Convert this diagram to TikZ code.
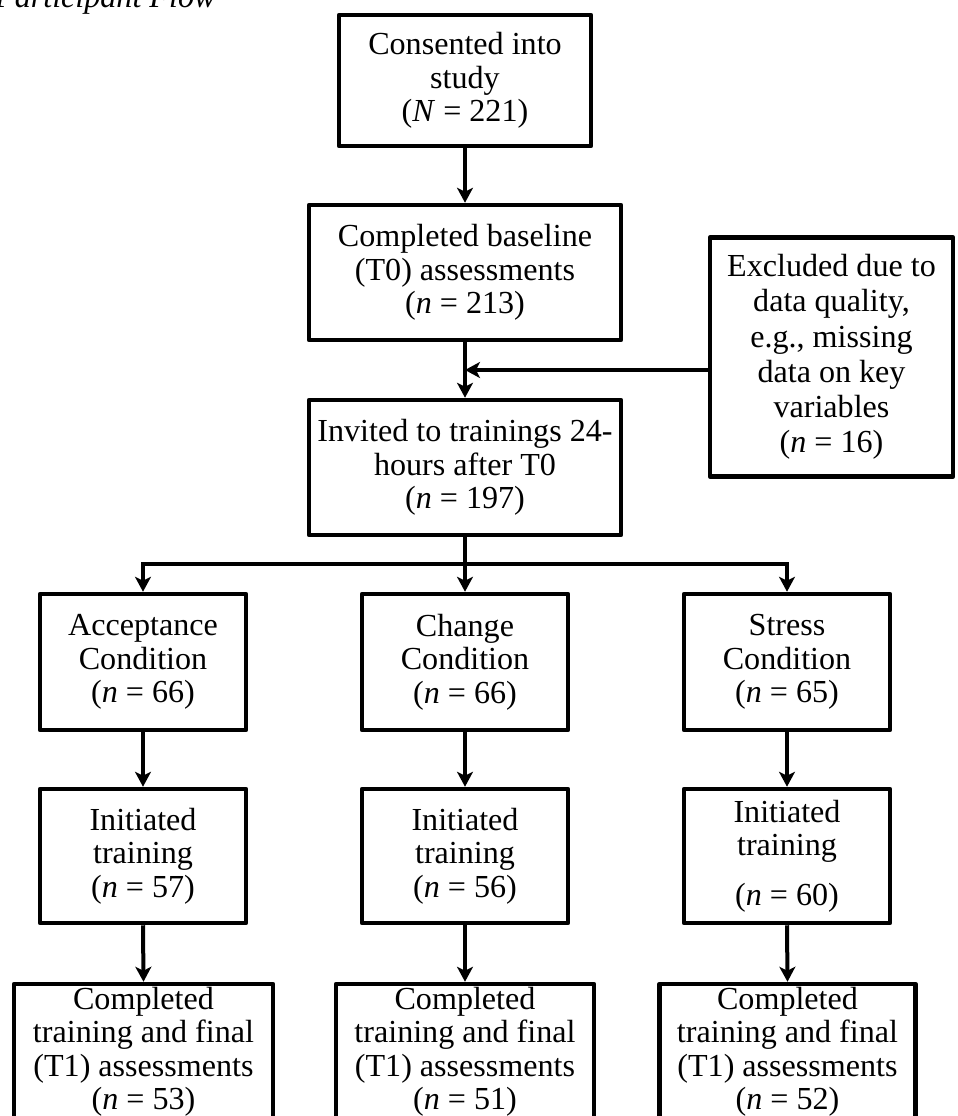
\documentclass[tikz,border=0pt]{standalone}
\usepackage{fontspec}
\setmainfont{Liberation Serif}
\usetikzlibrary{arrows.meta}
\begin{document}
\begin{tikzpicture}[x=1pt,y=-1pt,
  box/.style={draw=black, line width=4.5pt, rectangle, align=center, inner sep=0pt,
    font=\fontsize{32.1}{33.5}\selectfont, line join=round},
  conn/.style={line width=4pt, -{Stealth[length=15pt,width=16pt,inset=4pt]}}]
\useasboundingbox (0,0) rectangle (958,1116);
% title (clipped at the page edge, as in the reference)
\node[anchor=base west, inner sep=0pt, font=\fontsize{32.1}{33.5}\selectfont\itshape] (title) at (-5,8) {Participant Flow};
% main column
\node[box, minimum width=252pt, minimum height=131pt] (b1) at (465,80.5) {Consented into\\study\\(\textit{N} = 221)};
\node[box, minimum width=312pt, minimum height=135pt] (b2) at (465,272.5) {Completed baseline\\(T0) assessments\\(\textit{n} = 213)};
\node[box, minimum width=312pt, minimum height=135pt] (b3) at (465,467.5) {Invited to trainings 24-\\hours after T0\\(\textit{n} = 197)};
\node[box, minimum width=243pt, minimum height=239pt, font=\fontsize{32.1}{35.3}\selectfont] (ex) at (831.5,357) {Excluded due to\\data quality,\\e.g., missing\\data on key\\variables\\(\textit{n} = 16)};
% conditions
\node[box, minimum width=206pt, minimum height=136pt] (a1) at (143,662) {Acceptance\\Condition\\(\textit{n} = 66)};
\node[box, minimum width=206pt, minimum height=136pt] (c1) at (465,662) {Change\\Condition\\(\textit{n} = 66)};
\node[box, minimum width=206pt, minimum height=136pt] (s1) at (787,662) {Stress\\Condition\\(\textit{n} = 65)};
% initiated
\node[box, minimum width=206pt, minimum height=134pt] (a2) at (143,856) {Initiated\\training\\(\textit{n} = 57)};
\node[box, minimum width=206pt, minimum height=134pt] (c2) at (465,856) {Initiated\\training\\(\textit{n} = 56)};
\node[box, minimum width=206pt, minimum height=134pt] (s2) at (787,856) {Initiated\\training\\[16pt](\textit{n} = 60)};
% completed
\node[box, minimum width=259pt, minimum height=136pt] (a3) at (143.5,1052) {Completed\\training and final\\(T1) assessments\\(\textit{n} = 53)};
\node[box, minimum width=258pt, minimum height=136pt] (c3) at (465,1052) {Completed\\training and final\\(T1) assessments\\(\textit{n} = 51)};
\node[box, minimum width=256pt, minimum height=136pt] (s3) at (787.5,1052) {Completed\\training and final\\(T1) assessments\\(\textit{n} = 52)};
% connectors
\draw[conn] (b1.south) -- (b2.north);
\draw[conn] (b2.south) -- (b3.north);
\coordinate (m) at (465,370);
\coordinate (e) at (ex.west |- m);
\draw[conn] (e) -- (m);
\coordinate (j) at (465,564);
\draw[conn] (b3.south) -- (c1.north);
\draw[conn] (j) -| (a1.north);
\draw[conn] (j) -| (s1.north);
\draw[conn] (a1.south) -- (a2.north);
\draw[conn] (c1.south) -- (c2.north);
\draw[conn] (s1.south) -- (s2.north);
\draw[conn] (a2.south) -- (a3.north);
\draw[conn] (c2.south) -- (c3.north);
\draw[conn] (s2.south) -- (s3.north);
\end{tikzpicture}
\end{document}
